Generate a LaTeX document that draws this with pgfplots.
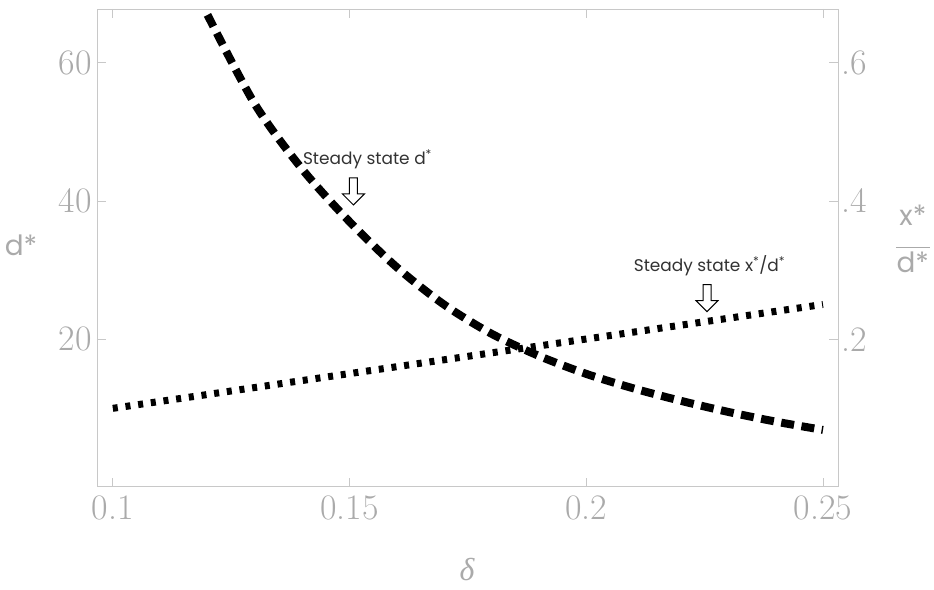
\documentclass[border=0pt]{standalone}
\usepackage{pgfplots}
\pgfplotsset{compat=1.18}
\usepackage{fontspec}
\newfontfamily\gothic{Poppins}
\newfontfamily\greekfont{Liberation Serif}
\definecolor{axgray}{RGB}{200,200,200}
\definecolor{lblgray}{RGB}{170,170,170}
\definecolor{txtgray}{RGB}{50,50,50}
\begin{document}
\begin{tikzpicture}
\useasboundingbox (-97bp,-103.3bp) rectangle (837bp,486.7bp);
\begin{axis}[
  at={(0,0)}, anchor=south west,
  scale only axis, width=741bp, height=477.7bp,
  xmin=0.09666, xmax=0.25317, ymin=-1.31, ymax=67.75,
  axis line style={axgray, line width=0.9bp},
  tick style={axgray, line width=0.9bp},
  tick align=inside, major tick length=9bp,
  /pgf/number format/assume math mode=true,
  xtick={0.1,0.15,0.2,0.25}, xticklabels={0.1,0.15,0.2,0.25},
  ytick={20,40,60}, yticklabels={20,40,60},
  xtick pos=both, ytick pos=left,
  tick label style={font=\fontsize{36}{36}\selectfont, text=lblgray},
  xticklabel style={yshift=-6bp},
  yticklabel style={xshift=-2bp},
  xlabel={\greekfont\itshape δ},
  xlabel style={font=\fontsize{32}{32}\selectfont, text=lblgray, at={(axis description cs:0.4993,-0.174)}, anchor=center},
  ylabel={\gothic d*},
  ylabel style={font=\fontsize{28}{28}\selectfont, text=lblgray, rotate=-90, at={(axis description cs:-0.1026,0.506)}, anchor=center},
  clip=false,
]
\addplot[black, line width=8bp, dash pattern=on 13bp off 7.5bp, smooth] coordinates {
(0.12,66.9) (0.13,54.0) (0.14,44.6) (0.15,37.0) (0.16,30.4) (0.17,25.0) (0.18,20.8)
(0.19,17.6) (0.20,15.0) (0.21,12.9) (0.22,11.1) (0.23,9.5) (0.24,8.1) (0.25,6.9)};
\node[anchor=base west, font=\gothic\fontsize{17}{17}\selectfont, text=txtgray, inner sep=0pt] at (axis cs:0.14014,45.2) {Steady state d\textsuperscript{*}};
\node[anchor=base west, font=\gothic\fontsize{17}{17}\selectfont, text=txtgray, inner sep=0pt] at (axis cs:0.2100,29.77) {Steady state x\textsuperscript{*}/d\textsuperscript{*}};
\draw[black, line width=1bp, fill=white] (axis cs:0.15083,39.42) -- ++(-11bp,11bp) -- ++(7bp,0bp) -- ++(0bp,16bp) -- ++(8bp,0bp) -- ++(0bp,-16bp) -- ++(7bp,0bp) -- cycle;
\draw[black, line width=1bp, fill=white] (axis cs:0.2255,23.99) -- ++(-11bp,11bp) -- ++(7bp,0bp) -- ++(0bp,16bp) -- ++(8bp,0bp) -- ++(0bp,-16bp) -- ++(7bp,0bp) -- cycle;
\end{axis}
\begin{axis}[
  at={(0,0)}, anchor=south west,
  scale only axis, width=741bp, height=477.7bp,
  xmin=0.09666, xmax=0.25317, ymin=-0.0131, ymax=0.6775,
  hide x axis,
  axis y line*=right,
  axis line style={axgray, line width=0.9bp},
  tick style={axgray, line width=0.9bp},
  tick align=inside, major tick length=9bp,
  /pgf/number format/assume math mode=true,
  ytick={0.2,0.4,0.6}, yticklabels={.2,.4,.6},
  tick label style={font=\fontsize{36}{36}\selectfont, text=lblgray},
  ylabel={\gothic\begin{tabular}{@{}c@{}}x*\\[-6bp]\rule{34bp}{1bp}\\[-4bp]d*\end{tabular}},
  ylabel style={font=\fontsize{28}{28}\selectfont, text=lblgray, rotate=-90, at={(axis description cs:1.101,0.510)}, anchor=center},
  clip=false,
]
\addplot[black, line width=7bp, dash pattern=on 5bp off 7.8bp] coordinates {
(0.10,0.1002) (0.11,0.1102) (0.12,0.1202) (0.13,0.1303) (0.14,0.1404) (0.15,0.1504)
(0.16,0.1604) (0.17,0.1704) (0.18,0.1804) (0.19,0.1904) (0.20,0.2004) (0.21,0.2104)
(0.22,0.2204) (0.23,0.2304) (0.24,0.2404) (0.25,0.2504)};
\end{axis}
\end{tikzpicture}
\end{document}
